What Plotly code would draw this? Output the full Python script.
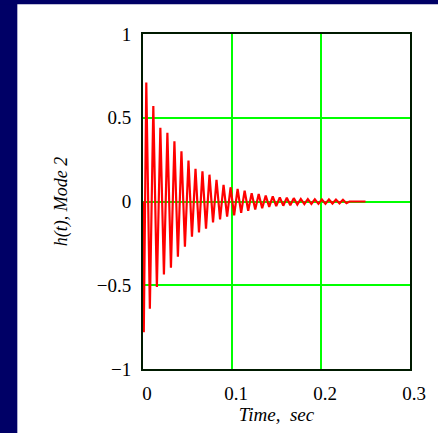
import plotly.graph_objects as go

# Extremum times (s) and values
t_start = [0.0, 0.0009]
h_start = [0.0, -0.78]

t_max = [0.0037, 0.0116, 0.0195, 0.0274, 0.0353, 0.0432, 0.0511, 0.0590, 0.0668,
         0.0747, 0.0826, 0.0905, 0.0984, 0.1063, 0.1142, 0.1221, 0.1300, 0.1379,
         0.1458, 0.1537, 0.1616, 0.1694, 0.1773, 0.1852, 0.1931, 0.2010, 0.2089,
         0.2168, 0.2247]
h_max = [0.71, 0.57, 0.44, 0.41, 0.36, 0.30, 0.245, 0.195, 0.18, 0.16, 0.13, 0.10,
         0.085, 0.075, 0.065, 0.05, 0.045, 0.035, 0.03, 0.025, 0.022, 0.02, 0.015,
         0.014, 0.013, 0.012, 0.012, 0.011, 0.01]
t_min = [0.0077, 0.0156, 0.0235, 0.0314, 0.0392, 0.0471, 0.0550, 0.0629, 0.0708,
         0.0787, 0.0866, 0.0945, 0.1024, 0.1103, 0.1182, 0.1261, 0.1339, 0.1418,
         0.1497, 0.1576, 0.1655, 0.1734, 0.1813, 0.1892, 0.1971, 0.2050, 0.2129,
         0.2208, 0.2286]
h_min = [-0.64, -0.51, -0.435, -0.395, -0.33, -0.27, -0.21, -0.185, -0.163, -0.125,
         -0.107, -0.09, -0.083, -0.068, -0.055, -0.048, -0.04, -0.032, -0.028,
         -0.025, -0.022, -0.018, -0.016, -0.015, -0.014, -0.013, -0.012, -0.011,
         -0.01]
t_end = [0.232, 0.25]
h_end = [0.0, 0.0]

x_ticks = [0, 0.1, 0.2, 0.3]
x_labels = ["0", "0.1", "0.2", "0.3"]
y_ticks = [-1, -0.5, 0, 0.5, 1]
y_labels = ["\u22121", "\u22120.5", "0", "0.5", "1"]

t = list(t_start)
h = list(h_start)
for a, b, c, d in zip(t_max, h_max, t_min, h_min):
    t += [a, c]
    h += [b, d]
t += t_end
h += h_end

serif = "Liberation Serif, Times New Roman, serif"

fig = go.Figure()
fig.add_trace(go.Scatter(x=t, y=h, mode="lines",
                         line=dict(color="#ff0000", width=2.2), showlegend=False))

axis_common = dict(showline=True, mirror=True, linecolor="#001a00", linewidth=2,
                   showgrid=True, gridcolor="#00ff00", gridwidth=1.5,
                   zeroline=False, ticks="", tickfont=dict(family=serif, size=19, color="#000"))

fig.update_xaxes(range=[0, 0.3], tickvals=x_ticks, ticktext=x_labels,
                 ticklabelshift=4, ticklabelstandoff=6,
                 title=dict(text="<i>Time,  sec</i>", font=dict(family=serif, size=19, color="#000"),
                            standoff=4),
                 **axis_common)
fig.update_yaxes(range=[-1, 1], tickvals=y_ticks, ticktext=y_labels,
                 ticklabelstandoff=6,
                 title=dict(text="<i>h(t), Mode 2</i>", font=dict(family=serif, size=18, color="#000"),
                            standoff=24),
                 **axis_common)

# navy frame strips (left and top) of the original window
fig.add_shape(type="rect", xref="paper", yref="paper", x0=-0.60, x1=-0.4707,
              y0=-0.3, y1=1.2, fillcolor="#000066", line=dict(width=0), layer="below")
fig.add_shape(type="rect", xref="paper", yref="paper", x0=-0.60, x1=1.2,
              y0=1.089, y1=1.2, fillcolor="#000066", line=dict(width=0), layer="below")

fig.update_layout(width=438, height=433, margin=dict(l=143, r=27, t=34, b=62),
                  paper_bgcolor="white", plot_bgcolor="white")

fig.write_html("out.html")
